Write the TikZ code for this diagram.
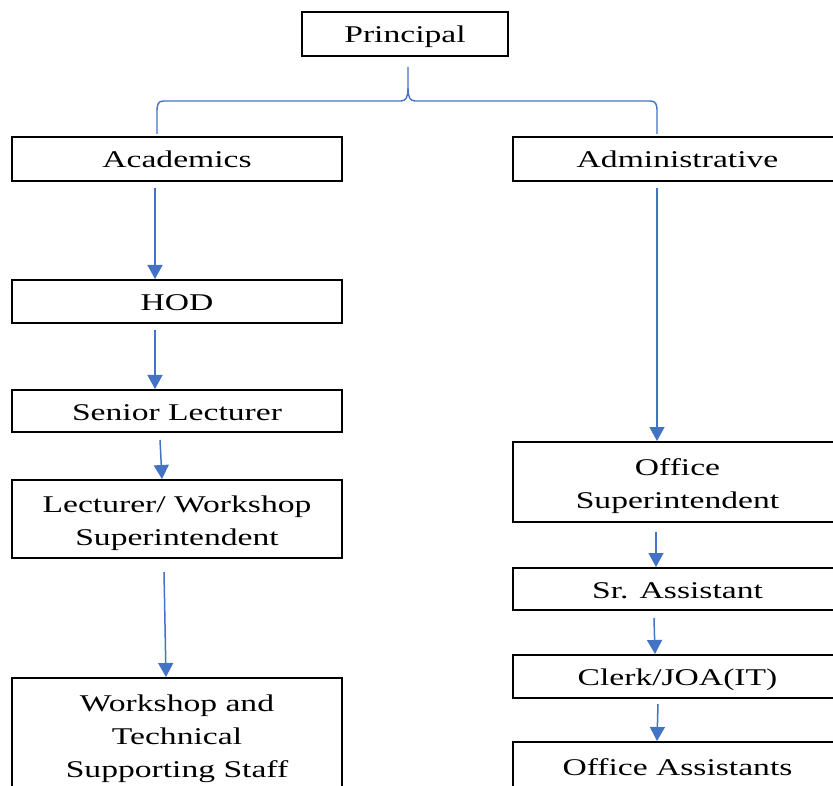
\documentclass[tikz,border=0pt]{standalone}
\usepackage{fontspec}
\setmainfont{Liberation Serif}[FakeStretch=1.4]
\usetikzlibrary{arrows.meta,calc}
\definecolor{arrblue}{HTML}{4472C4}
\begin{document}
\begin{tikzpicture}[x=1pt,y=-1pt,
  box/.style={draw=black,line width=1.6pt,inner sep=0pt,outer sep=0pt,align=center,
    font=\fontsize{24}{33}\selectfont},
  one/.style={text height=18pt,text depth=0pt},
  two/.style={label={[align=center,font=\fontsize{24}{33}\selectfont,inner sep=0pt,yshift=-4.5pt]center:#1}},
  arr/.style={draw=arrblue,line width=1.5pt,-{Triangle[width=15pt,length=14pt]}},
  brc/.style={draw=arrblue,line width=1.4pt}]
\clip (0,0) rectangle (833,786);
\fill[white] (0,0) rectangle (833,786);
% boxes
\node[box,one,minimum width=206pt,minimum height=44pt] (P) at (405,34) {Principal};
\node[box,one,minimum width=330pt,minimum height=44pt] (Ac) at (177,159) {Academics};
\node[box,one,minimum width=329pt,minimum height=44pt] (Ad) at (677.5,159) {Administrative};
\node[box,one,minimum width=330pt,minimum height=43pt] (HOD) at (177,301.5) {HOD};
\node[box,one,minimum width=330pt,minimum height=42pt] (SL) at (177,411) {Senior Lecturer};
\node[box,minimum width=330pt,minimum height=78pt,two={Lecturer/ Workshop\\Superintendent}] (LW) at (177,519) {};
\node[box,minimum width=330pt,minimum height=122pt] (WT) at (177,739) {Workshop and\\Technical\\Supporting Staff};
\node[box,minimum width=329pt,minimum height=80pt,two={Office\\Superintendent}] (OS) at (677.5,482) {};
\node[box,one,minimum width=329pt,minimum height=42pt] (SA) at (677.5,589) {Sr. Assistant};
\node[box,one,minimum width=329pt,minimum height=43pt] (CJ) at (677.5,676.5) {Clerk/JOA(IT)};
\node[box,one,minimum width=329pt,minimum height=48pt] (OA) at (677.5,766) {Office Assistants};
% brace
\coordinate (bt) at ($(P.south)+(3,11)$);
\coordinate (bl) at ($(Ac.north)+(-20,-3)$);
\coordinate (br) at ($(Ad.north)+(-20.5,-3)$);
\draw[brc] (bl) -- ++(0,-22) .. controls +(0,-8) and +(-6,0) .. ($(bl)+(7,-33)$)
  -- ($(bt)+(-7,34)$) .. controls +(5,0) and +(0,9) .. ($(bt)+(0,21)$) -- (bt);
\draw[brc] (br) -- ++(0,-22) .. controls +(0,-8) and +(6,0) .. ($(br)+(-7,-33)$)
  -- ($(bt)+(7,34)$) .. controls +(-5,0) and +(0,9) .. ($(bt)+(0,21)$);
% arrows
\draw[arr] ($(Ac.south)+(-22,7)$) -- ($(HOD.north)+(-22,-1)$);
\draw[arr] ($(HOD.south)+(-22,7)$) -- ($(SL.north)+(-22,-1)$);
\draw[arr] ($(SL.south)+(-17,8)$) -- ($(LW.north)+(-15,-1)$);
\draw[arr] ($(LW.south)+(-13,14)$) -- ($(WT.north)+(-11,-1)$);
\draw[arr] ($(Ad.south)+(-20.5,7)$) -- ($(OS.north)+(-20.5,-1)$);
\draw[arr] ($(OS.south)+(-21.5,10)$) -- ($(SA.north)+(-21.5,-1)$);
\draw[arr] ($(SA.south)+(-23.5,8)$) -- ($(CJ.north)+(-22.5,-1)$);
\draw[arr] ($(CJ.south)+(-19.5,6)$) -- ($(OA.north)+(-20.5,-1)$);
\end{tikzpicture}
\end{document}
